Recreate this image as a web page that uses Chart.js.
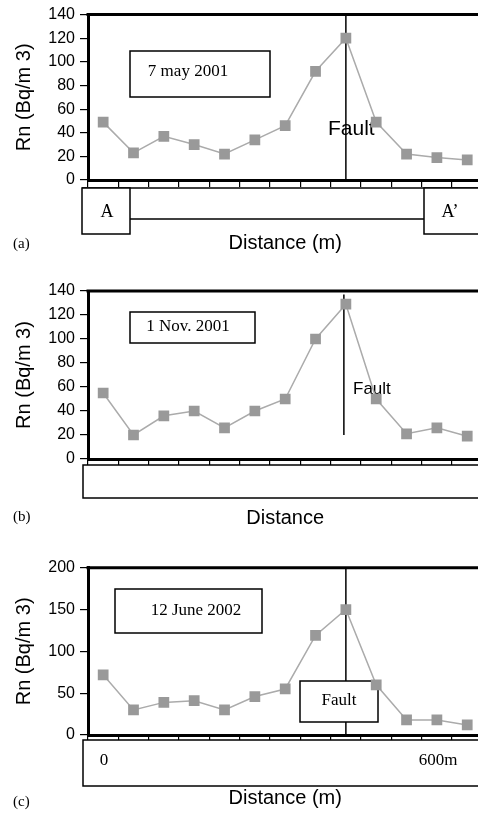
<!DOCTYPE html>
<html>
<head>
<meta charset="utf-8">
<title>Radon profiles across the fault</title>
<script src="https://cdn.jsdelivr.net/npm/chart.js@4.4.1/dist/chart.umd.min.js"></script>
<style>
  html, body { margin: 0; padding: 0; background: #fff; overflow: hidden; width: 478px; height: 816px; }
  canvas { position: absolute; left: 0; }
</style>
</head>
<body>
<canvas id="chart-a" width="490" height="265" style="top:0px"></canvas>
<canvas id="chart-b" width="490" height="270" style="top:265px"></canvas>
<canvas id="chart-c" width="490" height="281" style="top:535px"></canvas>
<script>
// measuring stations along the profile A - A'
const stations = ["1", "2", "3", "4", "5", "6", "7", "8", "9", "10", "11", "12", "13"];

// Rn concentration (Bq/m3) per survey
const rnMay2001 = [49, 23, 37, 30, 22, 34, 46, 92, 120, 49, 22, 19, 17];
const rnNov2001 = [55, 20, 36, 40, 26, 40, 50, 100, 129, 50, 21, 26, 19];
const rnJune2002 = [72, 30, 39, 41, 30, 46, 55, 119, 150, 60, 18, 18, 12];

const yTicks2001 = [0, 20, 40, 60, 80, 100, 120, 140];
const yTicks2002 = [0, 50, 100, 150, 200];

const faultStation = 8; // index of the station on the fault

const SANS = "'Liberation Sans', Arial, sans-serif";
const SERIF = "'Liberation Serif', 'Times New Roman', serif";

Chart.defaults.font.family = SANS;
Chart.defaults.color = "#000";

// boxes, labels and the fault line drawn around the plot
const decorPlugin = {
  id: "decor",
  beforeDatasetsDraw(chart, args, opts) {
    const ctx = chart.ctx;
    const area = chart.chartArea;
    const off = opts.offset || 0;
    ctx.save();
    ctx.translate(0, -off);
    ctx.strokeStyle = "#000";

    // thick top frame of the plot
    ctx.lineWidth = 3;
    ctx.beginPath();
    ctx.moveTo(area.left - 1.5, area.top + off);
    ctx.lineTo(chart.width, area.top + off);
    ctx.stroke();

    // fault line, placed with the chart scales
    const f = opts.fault;
    const fx = chart.scales.x.getPixelForValue(faultStation) + (f.dx || 0);
    ctx.lineWidth = 1.5;
    ctx.beginPath();
    ctx.moveTo(fx, chart.scales.y.getPixelForValue(f.from) + off);
    ctx.lineTo(fx, chart.scales.y.getPixelForValue(f.to) + off);
    ctx.stroke();

    ctx.lineWidth = 1.5;
    (opts.segments || []).forEach(function(s) {
      ctx.beginPath();
      ctx.moveTo(s[0], s[1]);
      ctx.lineTo(s[2], s[3]);
      ctx.stroke();
    });
    (opts.rects || []).forEach(function(r) {
      ctx.fillStyle = "#fff";
      ctx.fillRect(r[0], r[1], r[2] - r[0], r[3] - r[1]);
      ctx.strokeRect(r[0], r[1], r[2] - r[0], r[3] - r[1]);
    });
    ctx.fillStyle = "#000";
    ctx.textBaseline = "middle";
    (opts.labels || []).forEach(function(l) {
      ctx.font = l.font;
      ctx.textAlign = l.align || "center";
      ctx.fillText(l.text, l.x, l.y);
    });
    ctx.restore();
  }
};

function makeChart(id, values, yTicks, xTitle, xTitlePad, tickLen, padding, decor) {
  return new Chart(document.getElementById(id), {
    type: "line",
    data: {
      labels: stations,
      datasets: [{
        data: values,
        borderColor: "#ababab",
        borderWidth: 1.5,
        pointStyle: "rect",
        pointRadius: 7.6,
        pointBackgroundColor: "#999999",
        pointBorderWidth: 0,
        tension: 0
      }]
    },
    options: {
      responsive: false,
      animation: false,
      layout: { padding: padding },
      plugins: {
        legend: { display: false },
        tooltip: { enabled: false },
        decor: decor
      },
      scales: {
        x: {
          offset: true,
          grid: { offset: true, drawOnChartArea: false, tickLength: tickLen, color: "#000", lineWidth: 1.2 },
          border: { width: 3, color: "#000" },
          ticks: { display: false },
          title: { display: true, text: xTitle, font: { size: 20 }, padding: { top: xTitlePad, bottom: 0 } }
        },
        y: {
          min: yTicks[0],
          max: yTicks[yTicks.length - 1],
          ticks: { stepSize: yTicks[1] - yTicks[0], font: { size: 16 }, padding: 5 },
          grid: { drawOnChartArea: false, tickLength: 8, color: "#000", lineWidth: 1.2 },
          border: { width: 3, color: "#000" },
          title: { display: true, text: "Rn (Bq/m 3)", font: { size: 20 }, padding: { top: 12, bottom: 0 } },
          afterFit: function(scale) { scale.width = 88; }
        }
      }
    },
    plugins: [decorPlugin]
  });
}

makeChart("chart-a", rnMay2001, yTicks2001, "Distance (m)", 44, 7,
  { left: 0, top: 14, right: 4.4, bottom: 10 },
  {
    offset: 0,
    fault: { from: 140, to: 0 },
    segments: [[82, 188, 490, 188], [130, 219, 424, 219]],
    rects: [[130, 51, 270, 97], [82, 188, 130, 234], [424, 188, 492, 234]],
    labels: [
      { text: "7 may 2001", x: 188, y: 72, font: "17px " + SERIF },
      { text: "Fault", x: 328, y: 129, font: "21px " + SANS, align: "left" },
      { text: "A", x: 107, y: 212, font: "18px " + SERIF },
      { text: "A\u2019", x: 450, y: 212, font: "18px " + SERIF },
      { text: "(a)", x: 13, y: 244, font: "15px " + SERIF, align: "left" }
    ]
  });

makeChart("chart-b", rnNov2001, yTicks2001, "Distance", 41, 6,
  { left: 0, top: 26, right: 4.4, bottom: 5 },
  {
    offset: 265,
    fault: { from: 137, to: 20, dx: -2 },
    rects: [[130, 312, 255, 343], [83, 465, 492, 498]],
    labels: [
      { text: "1 Nov. 2001", x: 188, y: 327, font: "17px " + SERIF },
      { text: "Fault", x: 353, y: 389, font: "17px " + SANS, align: "left" },
      { text: "(b)", x: 13, y: 517, font: "15px " + SERIF, align: "left" }
    ]
  });

makeChart("chart-c", rnJune2002, yTicks2002, "Distance (m)", 46, 5,
  { left: 0, top: 32.7, right: 4.4, bottom: 6 },
  {
    offset: 535,
    fault: { from: 200, to: 0 },
    rects: [[115, 589, 262, 633], [300, 681, 378, 722], [83, 740, 492, 786]],
    labels: [
      { text: "12 June 2002", x: 196, y: 611, font: "17px " + SERIF },
      { text: "Fault", x: 339, y: 701, font: "17px " + SERIF },
      { text: "0", x: 104, y: 761, font: "17px " + SERIF },
      { text: "600m", x: 438, y: 761, font: "17px " + SERIF },
      { text: "(c)", x: 13, y: 802, font: "15px " + SERIF, align: "left" }
    ]
  });
</script>
</body>
</html>
